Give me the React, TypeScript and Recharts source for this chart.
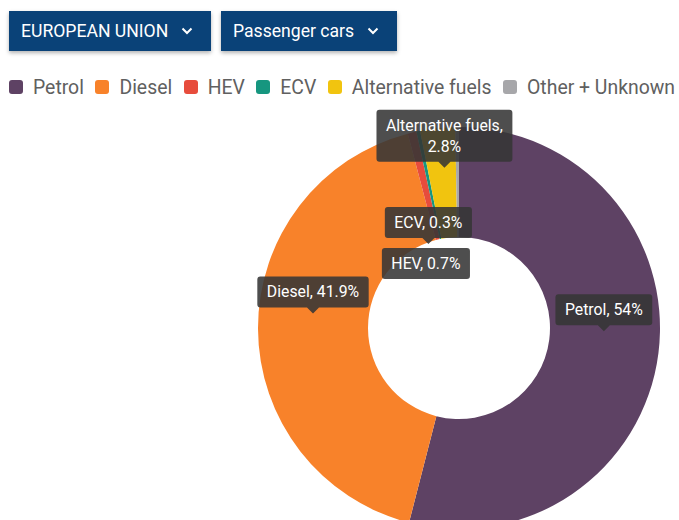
import React from 'react';
import { PieChart, Pie, Cell } from 'recharts';

const fuelNames = ['Petrol', 'Diesel', 'HEV', 'ECV', 'Alternative fuels', 'Other + Unknown'];
const fuelShares = [54, 41.9, 0.7, 0.3, 2.8, 0.3];
const fuelColors = ['#5e4264', '#f8822a', '#e74c3c', '#16967f', '#f1c40f', '#a7a7aa'];
const filterLabels = ['EUROPEAN UNION', 'Passenger cars'];

const pieData = fuelNames.map((name, i) => ({ name, value: fuelShares[i] }));

// label collision adjustments (style only)
const LABEL_ADJUST: Record<string, { dx: number; dy: number; pointer: boolean; wrap?: boolean }> = {
  HEV: { dx: 1, dy: 108, pointer: false },
  ECV: { dx: -1, dy: 74, pointer: true },
  'Alternative fuels': { dx: 1, dy: 0, pointer: true, wrap: true },
};
const HIDDEN_LABELS = ['Other + Unknown'];

const FONT = 'Roboto, "Noto Sans", sans-serif';
const RAD = Math.PI / 180;

let ctx: CanvasRenderingContext2D | null = null;
function measure(text: string, font: string) {
  if (!ctx) ctx = document.createElement('canvas').getContext('2d');
  if (!ctx) return text.length * 8;
  ctx.font = font;
  return ctx.measureText(text).width;
}

function renderLabel(props: any) {
  const { cx, cy, midAngle, innerRadius, outerRadius, index } = props;
  const d = pieData[index];
  if (HIDDEN_LABELS.includes(d.name)) return null;
  const r = (innerRadius + outerRadius) / 2;
  const mx = cx + r * Math.cos(-midAngle * RAD);
  const my = cy + r * Math.sin(-midAngle * RAD);
  const adj = LABEL_ADJUST[d.name] || { dx: 0, dy: 0, pointer: true };
  const tipX = mx + adj.dx;
  const tipY = my - 15 + adj.dy;
  const lines = adj.wrap ? [`${d.name},`, `${d.value}%`] : [`${d.name}, ${d.value}%`];
  const fontSize = 15.8;
  const tw = Math.max(...lines.map((l) => measure(l, `${fontSize}px Roboto`)));
  const w = tw + 19;
  const lineH = 21;
  const h = lines.length * lineH + 10;
  const ph = adj.pointer ? 6 : 0;
  const bottom = tipY - ph;
  const top = bottom - h;
  const left = tipX - w / 2;
  const right = left + w;
  const rr = 3;
  let path = `M${left + rr},${top} H${right - rr} Q${right},${top} ${right},${top + rr} V${bottom - rr} Q${right},${bottom} ${right - rr},${bottom}`;
  if (adj.pointer) {
    path += ` H${tipX + 6} L${tipX},${tipY} L${tipX - 6},${bottom}`;
  }
  path += ` H${left + rr} Q${left},${bottom} ${left},${bottom - rr} V${top + rr} Q${left},${top} ${left + rr},${top} Z`;
  return (
    <g key={`lbl-${index}`}>
      <path d={path} fill="rgba(53,53,53,0.88)" />
      {lines.map((l, i) => (
        <text
          key={i}
          x={tipX}
          y={top + 5 + lineH * i + lineH / 2}
          textAnchor="middle"
          dominantBaseline="central"
          fill="#ffffff"
          fontSize={fontSize}
          fontFamily={FONT}
        >
          {l}
        </text>
      ))}
    </g>
  );
}

function Chevron() {
  return (
    <svg width="12" height="8" viewBox="0 0 12 8" style={{ marginLeft: 13 }}>
      <polyline points="1.5,1.5 6,6 10.5,1.5" fill="none" stroke="#fff" strokeWidth="2" />
    </svg>
  );
}

export default function App() {
  const btnWidths = [202, 176];
  return (
    <div style={{ position: 'absolute', left: 0, top: 0, width: 679, height: 520, background: '#fff', overflow: 'hidden', fontFamily: FONT }}>
      <div style={{ position: 'absolute', left: 9, top: 11, display: 'flex', gap: 10 }}>
        {filterLabels.map((t, i) => (
          <div
            key={t}
            style={{
              width: btnWidths[i],
              height: 40,
              boxSizing: 'border-box',
              paddingLeft: 12,
              background: '#0a4278',
              color: '#fff',
              fontSize: 17.6,
              display: 'flex',
              alignItems: 'center',
              boxShadow: '0 2px 4px rgba(0,0,0,0.3)',
              whiteSpace: 'nowrap',
            }}
          >
            {t}
            <Chevron />
          </div>
        ))}
      </div>
      <div style={{ position: 'absolute', left: 9, top: 76, display: 'flex', alignItems: 'center', height: 22, whiteSpace: 'nowrap' }}>
        {fuelNames.map((n, i) => (
          <div key={n} style={{ display: 'flex', alignItems: 'center', marginRight: 11.5 }}>
            <div style={{ width: 14, height: 14, borderRadius: 3, background: fuelColors[i], marginRight: 10 }} />
            <span style={{ fontSize: 19.4, color: '#606060' }}>{n}</span>
          </div>
        ))}
      </div>
      <div style={{ position: 'absolute', left: 0, top: 0 }}>
        <PieChart width={679} height={520} margin={{ top: 0, right: 0, bottom: 0, left: 0 }}>
          <Pie
            data={pieData}
            dataKey="value"
            nameKey="name"
            cx={459}
            cy={328}
            innerRadius={91}
            outerRadius={201}
            startAngle={90}
            endAngle={-270}
            stroke="none"
            label={renderLabel}
            labelLine={false}
            isAnimationActive={false}
          >
            {pieData.map((d, i) => (
              <Cell key={d.name} fill={fuelColors[i]} />
            ))}
          </Pie>
        </PieChart>
      </div>
    </div>
  );
}
